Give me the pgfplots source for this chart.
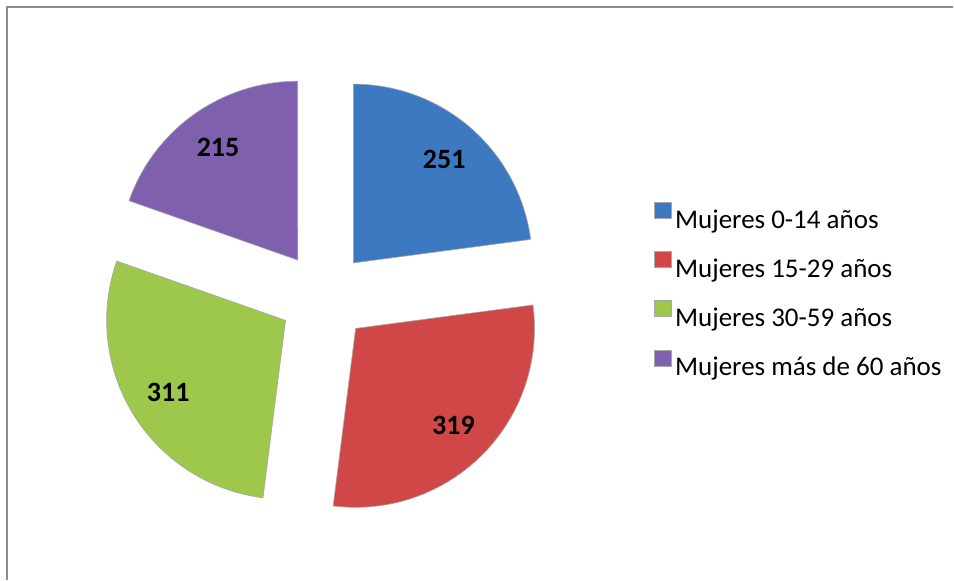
\documentclass[border=0pt]{standalone}
\usepackage{pgfplots}
\pgfplotsset{compat=1.18}
\usepackage{fontspec}
\setmainfont{Carlito}
\definecolor{sblue}{HTML}{3D79C1}
\definecolor{sred}{HTML}{D04747}
\definecolor{sgreen}{HTML}{9DC84B}
\definecolor{spurple}{HTML}{7F60AE}

% data (number of women by age group)
\def\vA{251}\def\vB{319}\def\vC{311}\def\vD{215}
% pie geometry, in px of the 954x580 reference
\def\cx{324}\def\cy{283}\def\R{179}\def\ex{45}

\begin{document}
\begin{tikzpicture}
\pgfmathsetmacro\tot{\vA+\vB+\vC+\vD}
\pgfmathsetmacro\sA{90}
\pgfmathsetmacro\sB{\sA-360*(\vA/\tot)}
\pgfmathsetmacro\sC{\sB-360*(\vB/\tot)}
\pgfmathsetmacro\sD{\sC-360*(\vC/\tot)}
\pgfmathsetmacro\sE{\sD-360*(\vD/\tot)}
% slice offsets along bisector
\pgfmathsetmacro\oxA{\cx+\ex*cos((\sA+\sB)/2)}\pgfmathsetmacro\oyA{\cy+\ex*sin((\sA+\sB)/2)}
\pgfmathsetmacro\oxB{\cx+\ex*cos((\sB+\sC)/2)}\pgfmathsetmacro\oyB{\cy+\ex*sin((\sB+\sC)/2)}
\pgfmathsetmacro\oxC{\cx+\ex*cos((\sC+\sD)/2)}\pgfmathsetmacro\oyC{\cy+\ex*sin((\sC+\sD)/2)}
\pgfmathsetmacro\oxD{\cx+\ex*cos((\sD+\sE)/2)}\pgfmathsetmacro\oyD{\cy+\ex*sin((\sD+\sE)/2)}
% label positions
\def\ld{183}
\pgfmathsetmacro\lxA{\cx+\ld*cos((\sA+\sB)/2)}\pgfmathsetmacro\lyA{\cy+\ld*sin((\sA+\sB)/2)}
\pgfmathsetmacro\lxB{\cx+\ld*cos((\sB+\sC)/2)}\pgfmathsetmacro\lyB{\cy+\ld*sin((\sB+\sC)/2)}
\pgfmathsetmacro\lxC{\cx+\ld*cos((\sC+\sD)/2)}\pgfmathsetmacro\lyC{\cy+\ld*sin((\sC+\sD)/2)}
\pgfmathsetmacro\lxD{\cx+\ld*cos((\sD+\sE)/2)}\pgfmathsetmacro\lyD{\cy+\ld*sin((\sD+\sE)/2)}
\begin{axis}[
  width=954pt, height=580pt, scale only axis,
  xmin=0, xmax=954, ymin=0, ymax=580,
  axis lines=none, clip=false,
  samples=90,
  legend image code/.code={\path[#1, line width=0.4pt] (0pt,3pt) rectangle (17pt,19pt);},
  legend cell align=left,
  legend style={draw=none, fill=none, inner sep=0pt, at={(axis cs:654,378)}, anchor=north west,
    row sep=17pt, column sep=4pt,
    nodes={inner sep=0pt, text height=20pt, text depth=6pt, font=\fontsize{27}{30}\selectfont}},
]
\path (axis cs:0,0) rectangle (axis cs:954,580);
\draw[black!45, line width=1.5pt] (axis cs:7,0) -- (axis cs:7,573) -- (axis cs:954,573);

\addplot[fill=sblue, draw=black!35, line width=0.6pt, domain=\sB:\sA]
  ({\oxA+\R*cos(x)},{\oyA+\R*sin(x)}) -- (axis cs:\oxA,\oyA) -- cycle;
\addlegendentry{Mujeres 0-14 años}
\addplot[fill=sred, draw=black!35, line width=0.6pt, domain=\sC:\sB]
  ({\oxB+\R*cos(x)},{\oyB+\R*sin(x)}) -- (axis cs:\oxB,\oyB) -- cycle;
\addlegendentry{Mujeres 15-29 años}
\addplot[fill=sgreen, draw=black!35, line width=0.6pt, domain=\sD:\sC]
  ({\oxC+\R*cos(x)},{\oyC+\R*sin(x)}) -- (axis cs:\oxC,\oyC) -- cycle;
\addlegendentry{Mujeres 30-59 años}
\addplot[fill=spurple, draw=black!35, line width=0.6pt, domain=\sE:\sD]
  ({\oxD+\R*cos(x)},{\oyD+\R*sin(x)}) -- (axis cs:\oxD,\oyD) -- cycle;
\addlegendentry{Mujeres más de 60 años}

\node[font=\fontsize{28}{30}\selectfont\bfseries] at (axis cs:\lxA,\lyA) {\vA};
\node[font=\fontsize{28}{30}\selectfont\bfseries] at (axis cs:\lxB,\lyB) {\vB};
\node[font=\fontsize{28}{30}\selectfont\bfseries] at (axis cs:\lxC,\lyC) {\vC};
\node[font=\fontsize{28}{30}\selectfont\bfseries] at (axis cs:\lxD,\lyD) {\vD};
\end{axis}
\end{tikzpicture}
\end{document}
